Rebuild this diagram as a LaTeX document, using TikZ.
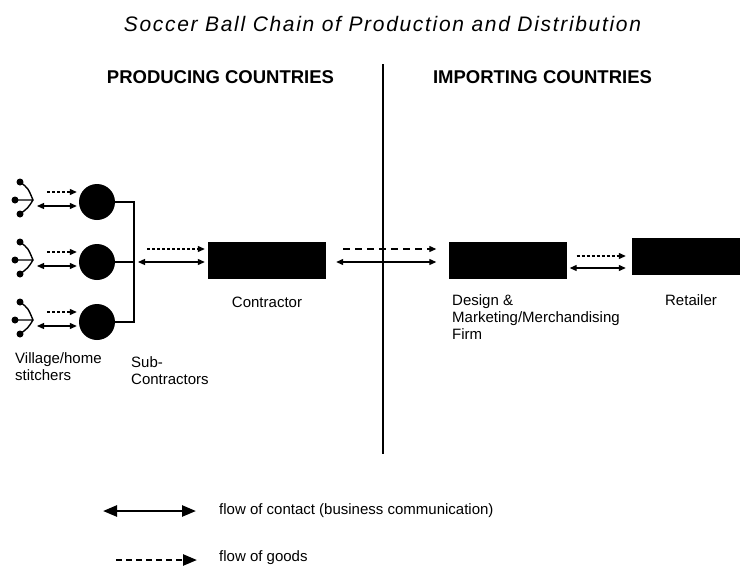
\documentclass[tikz,border=0pt]{standalone}
\usepackage{fontspec}
\setmainfont{Liberation Sans}
\usetikzlibrary{arrows.meta}

\begin{document}
\begin{tikzpicture}[x=1pt,y=-1pt,
  contact/.style={line width=1.2pt,{Triangle[length=7pt,width=6pt]}-{Triangle[length=7pt,width=6pt]}},
  goods/.style={line width=1.2pt,dash pattern=on 3pt off 2pt,-{Triangle[length=7pt,width=6pt]}},
  wire/.style={line width=1.4pt},
  firm/.style={fill=black,minimum width=118pt,minimum height=37pt,inner sep=0pt},
  ball/.style={circle,fill=black,minimum size=36pt,inner sep=0pt},
  dot/.style={circle,fill=black,minimum size=7pt,inner sep=0pt},
  lbl/.style={font=\fontsize{15}{17}\selectfont,inner sep=0pt}]
  \useasboundingbox (0,0) rectangle (740,566);

  \node (title) at (382.5,24) {\fontsize{21}{25}\selectfont\itshape\addfontfeatures{LetterSpace=8}Soccer Ball Chain of Production and Distribution};
  \node (producing) at (220.5,77.5) {\fontsize{18.5}{22}\selectfont\bfseries PRODUCING COUNTRIES};
  \node (importing) at (542.5,77.5) {\fontsize{18.5}{22}\selectfont\bfseries IMPORTING COUNTRIES};

  % border between the two sides
  \coordinate (bordertop) at (383,64);
  \coordinate (borderbottom) at (383,454);
  \draw[line width=2pt] (bordertop) -- (borderbottom);

  % stitchers and sub-contractors
  \foreach \i/\y in {1/202,2/262,3/322} {
    \node[ball] (sub\i) at (97,\y) {};
    \coordinate (fork\i) at (33,\y-2);
    \node[dot] (hta\i) at (20,\y-20) {};
    \node[dot] (htb\i) at (15,\y-2) {};
    \node[dot] (htc\i) at (20,\y+12) {};
    \draw[wire] (hta\i.center) .. controls (28,\y-14) .. (fork\i) .. controls (28,\y+6) .. (htc\i.center) (htb\i.center) -- (fork\i);
    \draw[goods,shorten <=14pt,shorten >=2pt] ([yshift=8pt]fork\i) -- ([yshift=10pt]sub\i.west);
    \draw[contact,shorten <=4pt,shorten >=2pt] ([yshift=-6pt]fork\i) -- ([yshift=-4pt]sub\i.west);
  }
  \coordinate (bracket) at (134,262);
  \draw[wire] (sub1.east) -| (bracket) |- (sub3.east);
  \draw[wire] (sub2.east) -- (bracket);

  \node[firm] (contractor) at (267,260) {};
  \node[firm] (design) at (507.5,260) {};
  \node[firm,minimum width=110pt] (retailer) at (687,256.5) {};

  \draw[goods,shorten <=13pt,shorten >=3pt] ([yshift=13pt]bracket) -- ([yshift=11pt]contractor.west);
  \draw[contact,shorten <=4pt,shorten >=3pt] (bracket) -- ([yshift=-2pt]contractor.west);

  \draw[goods,dash pattern=on 7pt off 5pt,shorten <=17pt,shorten >=12pt] ([yshift=11pt]contractor.east) -- ([yshift=11pt]design.west);
  \draw[contact,shorten <=10pt,shorten >=12pt] ([yshift=-2pt]contractor.east) -- ([yshift=-2pt]design.west);

  \draw[goods,shorten <=10pt,shorten >=6pt] ([yshift=4pt]design.east) -- ([yshift=0.5pt]retailer.west);
  \draw[contact,shorten <=3pt,shorten >=6pt] ([yshift=-8pt]design.east) -- ([yshift=-11.5pt]retailer.west);

  \node[lbl] (contractorlbl) at (267,302) {Contractor};
  \node[lbl,anchor=north west,align=left] (designlbl) at (452,294) {Design \&\\Marketing/Merchandising\\Firm};
  \node[lbl] (retailerlbl) at (691,300) {Retailer};
  \node[lbl,anchor=north west,align=left] (stitcherlbl) at (15,352) {Village/home\\stitchers};
  \node[lbl,anchor=north west,align=left] (sublbl) at (131,356) {Sub-\\Contractors};

  % key
  \node[lbl,anchor=west] (contactkey) at (219,511) {flow of contact (business communication)};
  \node[lbl,anchor=west] (goodskey) at (219,558) {flow of goods};
  \coordinate (contactstart) at (103,511);
  \coordinate (goodsstart) at (116,560);
  \draw[line width=2.5pt,{Triangle[length=14pt,width=11pt]}-{Triangle[length=14pt,width=11pt]},shorten >=23pt] (contactstart) -- (contactkey.west);
  \draw[line width=2.5pt,dash pattern=on 6pt off 4pt,-{Triangle[length=14pt,width=11pt]},shorten >=22pt] (goodsstart) -- (goodsstart -| goodskey.west);
\end{tikzpicture}
\end{document}
